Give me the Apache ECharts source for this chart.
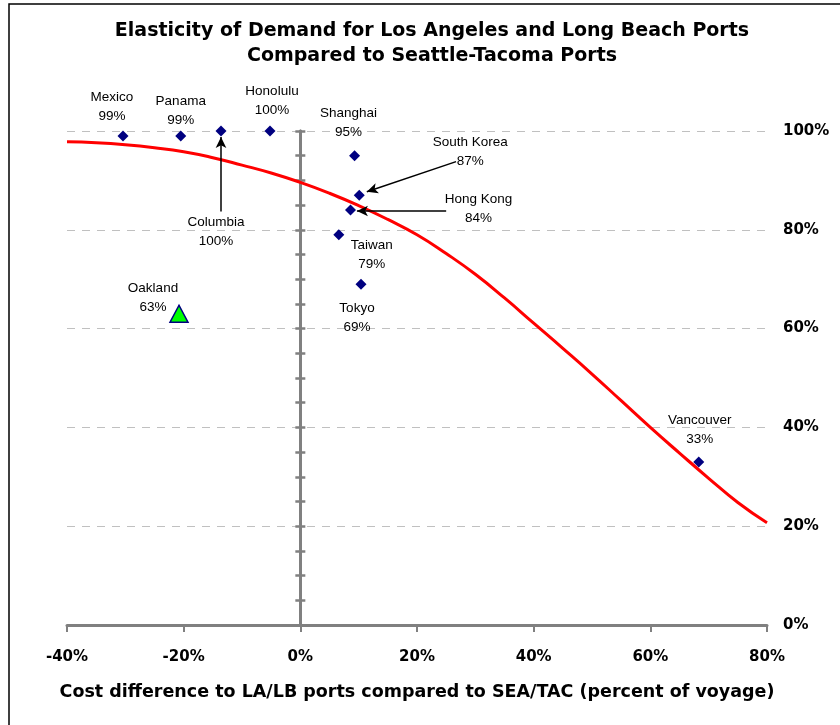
<!DOCTYPE html>
<html>
<head>
<meta charset="utf-8">
<script src="https://cdn.jsdelivr.net/npm/echarts@6/dist/echarts.min.js"></script>
<style>
  html, body { margin: 0; padding: 0; background: #fff; }
  #chart { width: 840px; height: 725px; }
</style>
</head>
<body>
<div id="chart"></div>
<script>
    // port survey points
    const ports = ['Mexico', 'Panama', 'Columbia', 'Honolulu', 'Shanghai', 'South Korea', 'Hong Kong', 'Taiwan', 'Tokyo', 'Vancouver'];
    const costDiff = [-30.4, -20.5, -13.6, -5.2, 9.3, 10.1, 8.6, 6.6, 10.4, 68.3];
    const share = [99, 99, 100, 100, 95, 87, 84, 79, 69, 33];

    // Oakland is drawn with its own marker
    const oaklandName = 'Oakland';
    const oaklandCost = -20.8;
    const oaklandShare = 63;

    // fitted elasticity curve
    const curveX = [-40, -35, -30, -25, -20, -15, -10, -5, 0, 5, 10, 15, 20, 25, 30, 35, 40, 45, 50, 55, 60, 65, 70, 75, 80];
    const curveY = [97.8, 97.6, 97.2, 96.6, 95.8, 94.6, 93.1, 91.5, 89.6, 87.4, 84.9, 82.1, 79.0, 75.2, 71.0, 66.2, 61.1, 56.0, 50.8, 45.4, 40.0, 34.8, 29.7, 24.8, 20.7];

    // callout arrows: [from, to] in data units
    const arrows = [
        [[-13.6, 83.7], [-13.6, 98.8]],
        [[26.7, 93.8], [11.4, 87.7]],
        [[25.0, 83.8], [9.7, 83.8]]
    ];

    // label placement relative to each marker (px)
    const labelOffsets = {
        'Mexico': [-11, -29],
        'Panama': [0, -25],
        'Columbia': [-5, 101],
        'Honolulu': [2, -30],
        'Shanghai': [-6, -33],
        'South Korea': [111, -43],
        'Hong Kong': [128, -1],
        'Taiwan': [33, 20],
        'Tokyo': [-4, 34],
        'Vancouver': [1, -32],
        'Oakland': [-26, -16]
    };

    const boldFont = 'DejaVu Sans';
    const labelFont = 'Liberation Sans, Arial, sans-serif';

    function pointLabel(name) {
        return {
            show: true,
            position: 'inside',
            offset: labelOffsets[name],
            formatter: p => p.name + '\n' + p.value[1] + '%',
            fontFamily: labelFont,
            fontSize: 13.5,
            lineHeight: 19,
            color: '#000'
        };
    }

    const chart = echarts.init(document.getElementById('chart'), null, { renderer: 'canvas' });

    const option = {
        animation: false,
        backgroundColor: '#fff',
        graphic: [{
            type: 'rect',
            shape: { x: 9, y: 4, width: 860, height: 760 },
            style: { fill: 'none', stroke: '#000', lineWidth: 1.5 },
            silent: true
        }, {
            type: 'text',
            x: 432,
            y: 19,
            silent: true,
            style: {
                text: 'Elasticity of Demand for Los Angeles and Long Beach Ports\nCompared to Seattle-Tacoma Ports',
                align: 'center',
                verticalAlign: 'top',
                fontFamily: boldFont,
                fontWeight: 'bold',
                fontSize: 19,
                lineHeight: 25,
                fill: '#000'
            }
        }],
        grid: { left: 67, right: 73, top: 131, bottom: 100 },
        xAxis: {
            type: 'value',
            min: -40,
            max: 80,
            interval: 20,
            name: 'Cost difference to LA/LB ports compared to SEA/TAC (percent of voyage)',
            nameLocation: 'middle',
            nameGap: 58,
            nameTextStyle: {
                fontFamily: boldFont,
                fontWeight: 'bold',
                fontSize: 17.5,
                color: '#000'
            },
            axisLine: { onZero: false, lineStyle: { color: '#808080', width: 3 } },
            axisTick: { length: 7, lineStyle: { color: '#808080', width: 2 } },
            axisLabel: {
                formatter: '{value}%',
                margin: 25,
                fontFamily: boldFont,
                fontWeight: 'bold',
                fontSize: 15,
                color: '#000'
            },
            splitLine: { show: false }
        },
        yAxis: [{
            type: 'value',
            position: 'right',
            min: 0,
            max: 100,
            interval: 20,
            axisLine: { show: false },
            axisTick: { show: false },
            axisLabel: {
                formatter: '{value}%',
                margin: 16,
                fontFamily: boldFont,
                fontWeight: 'bold',
                fontSize: 15,
                color: '#000'
            },
            splitLine: { lineStyle: { type: [8, 7], color: '#C0C0C0', width: 1 } }
        }, {
            type: 'value',
            position: 'left',
            min: 0,
            max: 100,
            interval: 5,
            axisLine: { show: true, onZero: true, onZeroAxisIndex: 0, lineStyle: { color: '#808080', width: 3 } },
            axisTick: { show: true, length: 5, lineStyle: { color: '#808080', width: 2.5 } },
            axisLabel: { show: false },
            splitLine: { show: false }
        }, {
            type: 'value',
            position: 'left',
            min: 0,
            max: 100,
            interval: 5,
            axisLine: { show: true, onZero: true, onZeroAxisIndex: 0, lineStyle: { color: '#808080', width: 3 } },
            axisTick: { show: true, inside: true, length: 5, lineStyle: { color: '#808080', width: 2.5 } },
            axisLabel: { show: false },
            splitLine: { show: false }
        }],
        series: [{
            name: 'Elasticity curve',
            type: 'line',
            smooth: true,
            showSymbol: false,
            data: curveX.map((x, i) => [x, curveY[i]]),
            lineStyle: { color: '#FF0000', width: 3 },
            z: 3,
            markLine: {
                silent: true,
                symbol: ['none', 'arrow'],
                symbolSize: [8, 11],
                label: { show: false },
                lineStyle: { color: '#000', width: 1.5, type: 'solid' },
                data: arrows.map(a => [{ coord: a[0] }, { coord: a[1] }])
            }
        }, {
            name: 'Ports',
            type: 'scatter',
            symbol: 'diamond',
            symbolSize: 11,
            itemStyle: { color: '#000080', opacity: 1 },
            z: 5,
            data: ports.map((name, i) => ({
                name: name,
                value: [costDiff[i], share[i]],
                label: pointLabel(name)
            }))
        }, {
            name: oaklandName,
            type: 'scatter',
            symbol: 'triangle',
            symbolSize: [18, 17],
            itemStyle: { color: '#00FF00', borderColor: '#000080', borderWidth: 1.5, opacity: 1 },
            z: 5,
            data: [{
                name: oaklandName,
                value: [oaklandCost, oaklandShare],
                label: pointLabel(oaklandName)
            }]
        }]
    };

    chart.setOption(option);
</script>
</body>
</html>
